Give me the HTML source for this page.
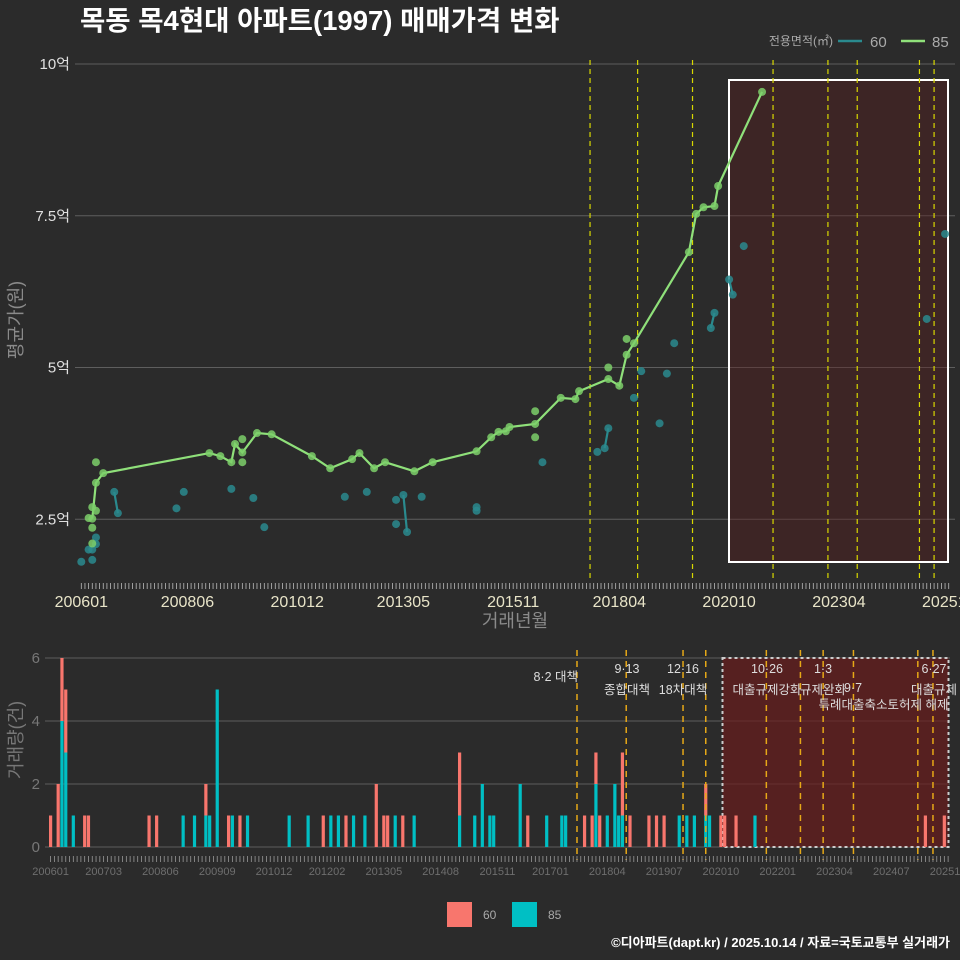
<!DOCTYPE html>
<html><head><meta charset="utf-8">
<style>
html,body{margin:0;padding:0;background:#2b2b2b;}
svg{display:block;font-family:"Liberation Sans","Noto Sans CJK KR",sans-serif;}
</style></head>
<body>
<svg id="chart" width="960" height="960" viewBox="0 0 960 960" xmlns="http://www.w3.org/2000/svg">
<rect x="0" y="0" width="960" height="960" fill="#2b2b2b"/>
<text x="80" y="30" font-size="27.5" font-weight="bold" fill="#ffffff">목동 목4현대 아파트(1997) 매매가격 변화</text>
<g id="topPanel"></g>
<g id="botPanel"></g>
<text x="950" y="947" font-size="13" font-weight="bold" fill="#ffffff" text-anchor="end">©디아파트(dapt.kr) / 2025.10.14 / 자료=국토교통부 실거래가</text>
</svg>
<script>
// month index: 0 = 2006-01
const xLabelsTop = ["200601","200806","201012","201305","201511","201804","202010","202304","202510"];
const xLabelMonthsTop = [0,29,59,88,118,147,177,207,237];
const yTicksTop = [2.5,5,7.5,10];
const yTickLabelsTop = ["2.5억","5억","7.5억","10억"];
// 85㎡ monthly average line
const line85Months = [3,4,6,35,38,41,42,44,48,52,63,68,74,76,80,83,91,96,108,112,114,116,117,124,131,135,136,144,147,149,151,166,168,170,173,174,186];
const line85Values = [2.51,3.10,3.26,3.59,3.54,3.44,3.74,3.60,3.92,3.90,3.54,3.34,3.49,3.59,3.34,3.44,3.29,3.44,3.62,3.85,3.94,3.95,4.02,4.07,4.50,4.48,4.61,4.81,4.70,5.21,5.40,6.90,7.53,7.64,7.66,7.99,9.54];
// 85㎡ individual trades not on the line
const pts85Months = [2,3,3,3,4,4,44,44,124,124,144,149];
const pts85Values = [2.52,2.36,2.70,2.10,3.44,2.64,3.82,3.44,4.28,3.85,5.00,5.47];
// 60㎡ trades
const pts60Months = [0,2,3,3,4,4,9,10,26,28,41,47,50,72,78,86,86,88,89,93,108,108,126,141,143,144,151,153,158,160,162,172,173,177,178,181,231,236];
const pts60Values = [1.80,2.00,1.83,2.00,2.20,2.09,2.95,2.60,2.68,2.95,3.00,2.85,2.37,2.87,2.95,2.82,2.42,2.90,2.29,2.87,2.70,2.64,3.44,3.61,3.67,4.00,4.50,4.94,4.08,4.90,5.40,5.65,5.90,6.45,6.20,7.00,5.80,7.20];
const policyTop = [139,152,167,189,204,212,229,233];
const policyBot = [139,152,167,173,189,198,204,212,229,233];
// volume bars
const volMonths = [0,2,3,4,6,9,10,26,28,35,38,41,42,44,47,48,50,52,63,68,72,74,76,78,80,83,86,88,89,91,93,96,108,112,114,116,117,124,126,131,135,136,141,143,144,145,147,149,150,151,153,158,160,162,166,168,170,173,174,177,178,181,186,231,236];
const vol85 = [0,0,4,3,1,0,0,0,0,1,1,1,1,5,0,1,0,1,1,1,0,1,1,0,1,1,0,0,0,1,0,1,1,1,2,1,1,2,0,1,1,1,0,0,2,0,1,2,1,1,0,0,0,0,1,1,1,1,1,0,0,0,1,0,0];
const vol60 = [1,2,2,2,0,1,1,1,1,0,0,1,0,0,1,0,1,0,0,0,1,0,0,1,0,0,2,1,1,0,1,0,2,0,0,0,0,0,1,0,0,0,1,1,1,1,0,0,0,2,1,1,1,1,0,0,0,1,0,1,1,1,0,1,1];
const xLabelsBot = ["200601","200703","200806","200909","201012","201202","201305","201408","201511","201701","201804","201907","202010","202201","202304","202407","202510"];
const xLabelMonthsBot = [0,14,29,44,59,73,88,103,118,132,147,162,177,192,207,222,237];
const yTicksBot = [0,2,4,6];

const NS="http://www.w3.org/2000/svg";
function mk(tag,attrs,parent,txt){const e=document.createElementNS(NS,tag);for(const k in attrs)e.setAttribute(k,attrs[k]);if(txt!==undefined)e.textContent=txt;parent.appendChild(e);return e;}
const xT=m=>81.3+3.66*m, yT=v=>64+(10-v)*60.7;
const xB=m=>50.6+3.787*m, yB=c=>847-31.5*c;
const topG=document.getElementById('topPanel'), botG=document.getElementById('botPanel');

// ---- top panel
yTicksTop.forEach((v,i)=>{
  const g=mk('line',{x1:75,x2:955,y1:yT(v),y2:yT(v),stroke:'#5e5e5e','stroke-width':1},topG);
  
  
  const t=mk('text',{x:70,y:yT(v)+5,'font-size':15,fill:'#e0e0e0','text-anchor':'end'},topG,yTickLabelsTop[i]);
  
  
});
const boxT=mk('rect',{x:729,y:80,width:219,height:482,fill:'#5a1e1e','fill-opacity':0.4,stroke:'#ffffff','stroke-width':2},topG);


policyTop.forEach(m=>{
  const l=mk('line',{x1:xT(m),x2:xT(m),y1:60,y2:580,stroke:'#d8d800','stroke-width':1.2,'stroke-dasharray':'5,4'},topG);
  
  
});
const mean60={};pts60Months.forEach((m,i)=>{(mean60[m]=mean60[m]||[]).push(pts60Values[i]);});
const ms60=Object.keys(mean60).map(Number).sort((a,b)=>a-b);
for(let i=1;i<ms60.length;i++){
  if(ms60[i]-ms60[i-1]===1&&ms60[i]>8){
    const a=mean60[ms60[i-1]],b=mean60[ms60[i]];
    const av=a.reduce((s,x)=>s+x,0)/a.length,bv=b.reduce((s,x)=>s+x,0)/b.length;
    const l=mk('line',{x1:xT(ms60[i-1]),y1:yT(av),x2:xT(ms60[i]),y2:yT(bv),stroke:'#2a8a8e','stroke-width':2.2},topG);
    
    
  }
}
pts60Months.forEach((m,i)=>{
  const c=mk('circle',{cx:xT(m),cy:yT(pts60Values[i]),r:4,fill:'#2a8a8e','fill-opacity':0.85},topG);
  
  
});
const p85=mk('polyline',{points:line85Months.map((m,i)=>xT(m)+','+yT(line85Values[i])).join(' '),fill:'none',stroke:'#8fe07a','stroke-width':2.2},topG);


line85Months.concat(pts85Months).forEach((m,i)=>{
  const v=i<line85Months.length?line85Values[i]:pts85Values[i-line85Months.length];
  const c=mk('circle',{cx:xT(m),cy:yT(v),r:4,fill:'#7ccf6a','fill-opacity':0.85},topG);
  
  
});
for(let m=0;m<=237;m++){
  const t=mk('line',{x1:xT(m),x2:xT(m),y1:583,y2:589,stroke:'#bbbbbb','stroke-width':0.8},topG);
  
  
}
xLabelsTop.forEach((s,i)=>{
  const t=mk('text',{x:xT(xLabelMonthsTop[i]),y:607,'font-size':16,fill:'#e8e4c8','text-anchor':'middle'},topG,s);
  
  
});
let t=mk('text',{x:515,y:627,'font-size':18,fill:'#8a8a8a','text-anchor':'middle'},topG,'거래년월');

t=mk('text',{x:0,y:0,'font-size':18,fill:'#8a8a8a','text-anchor':'middle',transform:'translate(22,320) rotate(-90)'},topG,'평균가(원)');

t=mk('text',{x:833,y:45,'font-size':12,fill:'#aaaaaa','text-anchor':'end'},topG,'전용면적(㎡)');

t=mk('line',{x1:838,x2:862,y1:41,y2:41,stroke:'#2a8a8e','stroke-width':2.5},topG);

t=mk('text',{x:870,y:47,'font-size':15,fill:'#aaaaaa'},topG,'60');

t=mk('line',{x1:901,x2:925,y1:41,y2:41,stroke:'#8fe07a','stroke-width':2.5},topG);

t=mk('text',{x:932,y:47,'font-size':15,fill:'#aaaaaa'},topG,'85');


// ---- bottom panel
yTicksBot.forEach(v=>{
  const g=mk('line',{x1:45,x2:950,y1:yB(v),y2:yB(v),stroke:'#5e5e5e','stroke-width':1},botG);
  
  
  const tt=mk('text',{x:40,y:yB(v)+5,'font-size':15,fill:'#777777','text-anchor':'end'},botG,String(v));
  
  
});
const boxB=mk('rect',{x:722.5,y:658,width:226,height:189,fill:'#6a1c1c','fill-opacity':0.7,stroke:'#cccccc','stroke-width':2,'stroke-dasharray':'3,3'},botG);


volMonths.forEach((m,i)=>{
  const w=3.2;
  if(vol85[i]>0){
    const r=mk('rect',{x:xB(m)-w/2,y:yB(vol85[i]),width:w,height:yB(0)-yB(vol85[i]),fill:'#00bfc4'},botG);
    
    
  }
  if(vol60[i]>0){
    const r=mk('rect',{x:xB(m)-w/2,y:yB(vol85[i]+vol60[i]),width:w,height:yB(vol85[i])-yB(vol85[i]+vol60[i]),fill:'#f8766d'},botG);
    
    
  }
});
policyBot.forEach(m=>{
  const l=mk('line',{x1:xB(m),x2:xB(m),y1:650,y2:860,stroke:'#e6a817','stroke-width':1.5,'stroke-dasharray':'6,5'},botG);
  
  
});
const notes=[["8·2 대책",578,681,'end'],["9·13",627,673,'middle'],["종합대책",627,694,'middle'],["12·16",683,673,'middle'],["18차대책",683,694,'middle'],["10·26",767,673,'middle'],["대출규제강화",767,694,'middle'],["1·3",823,673,'middle'],["규제완화",823,694,'middle'],["9·7",853,692,'middle'],["특례대출축소",853,709,'middle'],["토허제 해제",918,709,'middle'],["6·27",934,673,'middle'],["대출규제",934,694,'middle']];
notes.forEach(n=>{
  const tt=mk('text',{x:n[1],y:n[2],'font-size':12.5,fill:'#dddddd','text-anchor':n[3]},botG,n[0]);
  
  
});
for(let m=0;m<=237;m++){
  const tk=mk('line',{x1:xB(m),x2:xB(m),y1:856,y2:862,stroke:'#999999','stroke-width':0.8},botG);
  
  
}
xLabelsBot.forEach((s,i)=>{
  const tt=mk('text',{x:xB(xLabelMonthsBot[i]),y:875,'font-size':11,fill:'#6e6e6e','text-anchor':'middle'},botG,s);
  
  
});
t=mk('text',{x:0,y:0,'font-size':18,fill:'#777777','text-anchor':'middle',transform:'translate(22,740) rotate(-90)'},botG,'거래량(건)');

t=mk('rect',{x:447,y:902,width:25,height:25,fill:'#f8766d'},botG);

t=mk('text',{x:483,y:919,'font-size':12,fill:'#aaaaaa'},botG,'60');

t=mk('rect',{x:512,y:902,width:25,height:25,fill:'#00bfc4'},botG);

t=mk('text',{x:548,y:919,'font-size':12,fill:'#aaaaaa'},botG,'85');

</script>
</body></html>
